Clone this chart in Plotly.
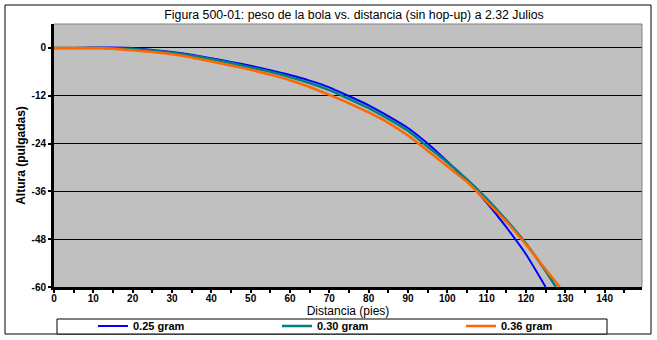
import plotly.graph_objects as go

# ---- data ----
dist = [0, 5, 10, 15, 20, 25, 30, 35, 40, 45, 50, 55, 60, 65, 70, 75, 80, 85, 90, 95, 100, 105, 110, 115, 120, 125]
alt_025 = [0, 0, 0.1, 0.1, 0, -0.5, -1.0, -1.7, -2.6, -3.5, -4.5, -5.6, -6.8, -8.2, -9.9, -12.1, -14.4, -17.1,
           -20.1, -24.0, -28.5, -33.3, -38.8, -45.0, -51.8, -60.0]
dist_030 = dist + [127.6]
alt_030 = [0, 0, 0, -0.1, -0.3, -0.7, -1.2, -1.9, -2.8, -3.8, -4.9, -6.0, -7.3, -8.8, -10.6, -12.8, -15.1, -17.8,
           -20.8, -24.8, -28.7, -33.0, -37.8, -43.2, -49.1, -56.0, -60.0]
dist_036 = dist + [128.6]
alt_036 = [0, 0, 0, -0.2, -0.6, -1.0, -1.6, -2.4, -3.4, -4.4, -5.5, -6.7, -8.1, -9.8, -11.8, -13.9, -16.2, -18.8,
           -22.0, -25.8, -29.7, -33.6, -38.5, -43.6, -49.3, -55.6, -60.0]

series_names = ["0.25 gram", "0.30 gram", "0.36 gram"]
series_colors = ["#0000FF", "#008080", "#FF6600"]
series_widths = [2, 2.5, 2.5]

x_ticks = list(range(0, 150, 10))
y_ticks = [0, -12, -24, -36, -48, -60]

title_text = "Figura 500-01: peso de la bola vs. distancia (sin hop-up) a 2.32 Julios"
x_title = "Distancia (pies)"
y_title = "Altura (pulgadas)"

# ---- layout geometry (pixels) ----
W, H = 657, 340
L, R, T, B = 54, 15, 24, 53
PW, PH = W - L - R, H - T - B


def px(xp):
    return (xp - L) / PW


def py(yp):
    return (H - B - yp) / PH


fig = go.Figure()
xs = [dist, dist_030, dist_036]
ys = [alt_025, alt_030, alt_036]
legend_ids = ["legend", "legend2", "legend3"]
for i in range(3):
    fig.add_trace(go.Scatter(
        x=xs[i], y=ys[i], mode="lines", name=series_names[i],
        line=dict(color=series_colors[i], width=series_widths[i], shape="spline", smoothing=0.6),
        legend=legend_ids[i], showlegend=True,
    ))

legend_font = dict(family="Liberation Sans", size=11, color="black", weight="bold")
legend_x_px = [93, 277, 461]
leg_common = dict(orientation="h", xanchor="left", yanchor="middle", bgcolor="rgba(0,0,0,0)",
                  borderwidth=0, font=legend_font, itemwidth=30, visible=True)

fig.update_layout(
    width=W, height=H,
    margin=dict(l=L, r=R, t=T, b=B, pad=0, autoexpand=False),
    paper_bgcolor="white",
    plot_bgcolor="#C0C0C0",
    showlegend=True,
    title=dict(text=title_text, x=354 / W, xref="container", xanchor="center",
               y=1 - 15 / H, yref="container", yanchor="middle",
               font=dict(family="Liberation Sans", size=12.3, color="black")),
    xaxis=dict(
        range=[0, 149.5], tickmode="array", tickvals=x_ticks, ticktext=[str(v) for v in x_ticks],
        ticks="outside", ticklen=3, tickwidth=2, tickcolor="black", ticklabelstandoff=-3,
        minor=dict(dtick=5, tick0=0, ticks="outside", ticklen=3, tickwidth=2, tickcolor="black"),
        showline=True, linecolor="black", linewidth=3, showgrid=False, zeroline=False,
        tickfont=dict(family="Liberation Sans", size=10, color="black", weight="bold"),
        title=dict(text=x_title, standoff=1,
                   font=dict(family="Liberation Sans", size=12, color="black")),
    ),
    yaxis=dict(
        range=[-60, 6], tickmode="array", tickvals=y_ticks, ticktext=[str(v) for v in y_ticks],
        ticks="outside", ticklen=3, tickwidth=2, tickcolor="black",
        showline=True, linecolor="black", linewidth=3,
        showgrid=True, gridcolor="black", gridwidth=1, zeroline=False,
        tickfont=dict(family="Liberation Sans", size=10, color="black", weight="bold"),
        title=dict(text=y_title, standoff=4,
                   font=dict(family="Liberation Sans", size=12, color="black", weight="bold")),
    ),
    legend=dict(x=px(legend_x_px[0]), y=py(326), **leg_common),
    legend2=dict(x=px(legend_x_px[1]), y=py(326), **leg_common),
    legend3=dict(x=px(legend_x_px[2]), y=py(326), **leg_common),
    shapes=[
        # outer chart frame
        dict(type="rect", xref="paper", yref="paper", x0=px(5), x1=px(651), y0=py(334), y1=py(5),
             line=dict(color="black", width=1), fillcolor="rgba(0,0,0,0)", layer="below"),
        # legend box
        dict(type="rect", xref="paper", yref="paper", x0=px(57), x1=px(607), y0=py(334), y1=py(319),
             line=dict(color="black", width=1), fillcolor="white", layer="below"),
        # plot area border (top & right)
        dict(type="path", xref="paper", yref="paper",
             path="M 0,1 L 1,1 L 1,0", line=dict(color="#808080", width=1)),
    ],
)

fig.write_html("out.html")
